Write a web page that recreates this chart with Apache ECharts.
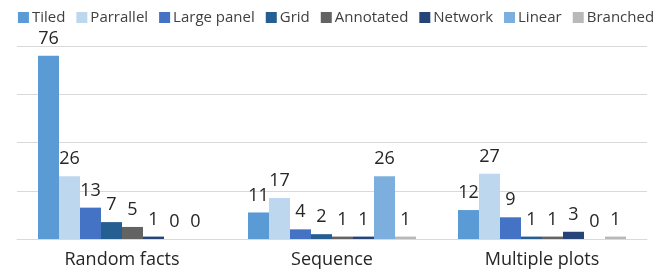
<!DOCTYPE html>
<html lang="en">
<head>
    <meta charset="UTF-8">
    <title>Chart</title>
    <script type="text/javascript" src="https://cdn.jsdelivr.net/npm/echarts@6/dist/echarts.min.js"></script>
    <style>
        html, body { margin: 0; padding: 0; background: #fff; }
        #main { width: 672px; height: 275px; }
    </style>
</head>
<body>
    <div id="main"></div>
    <script type="text/javascript">
        // categories and series
        var categories = ['Random facts', 'Sequence', 'Multiple plots'];
        var seriesNames = ['Tiled', 'Parrallel', 'Large panel', 'Grid', 'Annotated', 'Network', 'Linear', 'Branched'];
        var tiled = [76, 11, 12];
        var parrallel = [26, 17, 27];
        var largePanel = [13, 4, 9];
        var gridVals = [7, 2, 1];
        var annotated = [5, 1, 1];
        var network = [1, 1, 3];
        var linear = [0, 26, 0];
        var branched = [0, 1, 1];
        var colors = ['#5b9bd5', '#bdd7ee', '#4472c4', '#255e91', '#636363', '#264478', '#7cafdd', '#b9b9b9'];

        var allValues = [tiled, parrallel, largePanel, gridVals, annotated, network, linear, branched];

        var series = [];
        for (var i = 0; i < seriesNames.length; i++) {
            series.push({
                name: seriesNames[i],
                type: 'bar',
                data: allValues[i],
                barGap: '0%',
                barCategoryGap: '20%',
                itemStyle: { color: colors[i] },
                label: {
                    show: true,
                    position: 'top',
                    distance: 8,
                    color: '#262626',
                    fontFamily: 'Open Sans',
                    fontSize: 18
                }
            });
        }

        var chart = echarts.init(document.getElementById('main'));
        var option = {
            animation: false,
            color: colors,
            textStyle: { fontFamily: 'Open Sans' },
            legend: {
                top: 5,
                left: 'center',
                itemWidth: 11,
                itemHeight: 11,
                itemGap: 11,
                icon: 'rect',
                textStyle: { fontSize: 15, color: '#404040', fontFamily: 'Open Sans', padding: [0, 0, 0, -2] },
                data: seriesNames
            },
            grid: { left: 17, right: 25, top: 46, bottom: 36 },
            xAxis: {
                type: 'category',
                data: categories,
                axisTick: { show: false },
                axisLine: { lineStyle: { color: '#d9d9d9' } },
                axisLabel: { color: '#262626', fontSize: 18, fontFamily: 'Open Sans', margin: 12 }
            },
            yAxis: {
                type: 'value',
                min: 0,
                max: 80,
                interval: 20,
                axisLabel: { show: false },
                axisLine: { show: false },
                axisTick: { show: false },
                splitLine: { lineStyle: { color: '#d9d9d9' } }
            },
            series: series
        };
        chart.setOption(option);
    </script>
</body>
</html>
